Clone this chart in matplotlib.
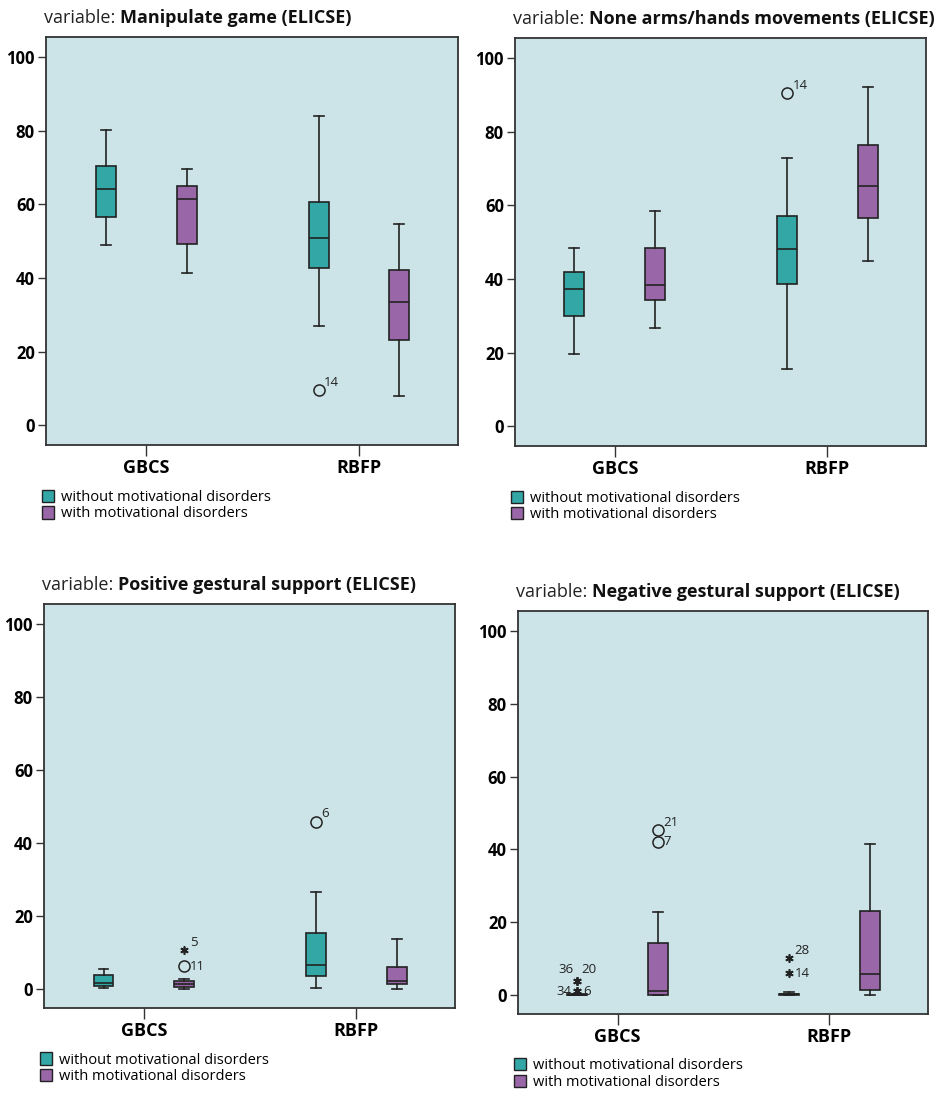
import matplotlib
matplotlib.use("Agg")
import matplotlib.pyplot as plt
from matplotlib.patches import Patch

plt.rcParams['font.family'] = ['Open Sans', 'DejaVu Sans']

groups = ["GBCS", "RBFP"]
series_names = ["without motivational disorders", "with motivational disorders"]
titles = ["Manipulate game (ELICSE)", "None arms/hands movements (ELICSE)",
          "Positive gestural support (ELICSE)", "Negative gestural support (ELICSE)"]

# box stats: [whislo, q1, med, q3, whishi] for GBCS, RBFP
manip_without = [[48.9, 56.5, 64.1, 70.5, 80.1], [27.0, 42.8, 51.0, 60.8, 84.1]]
manip_with = [[41.3, 49.2, 61.6, 65.1, 69.7], [7.9, 23.1, 33.5, 42.1, 54.7]]
none_without = [[19.7, 29.9, 37.3, 42.0, 48.4], [15.6, 38.8, 48.1, 57.2, 72.8]]
none_with = [[26.6, 34.4, 38.4, 48.4, 58.6], [44.8, 56.5, 65.2, 76.3, 92.2]]
pos_without = [[0.3, 0.8, 1.6, 3.8, 5.4], [0.3, 3.4, 6.4, 15.4, 26.5]]
pos_with = [[0.0, 0.5, 1.3, 2.2, 2.7], [0.0, 1.3, 2.0, 5.9, 13.5]]
neg_without = [[0.0, 0.0, 0.0, 0.2, 0.3], [0.0, 0.0, 0.1, 0.3, 0.8]]
neg_with = [[0.0, 0.0, 0.9, 14.1, 22.7], [0.0, 1.2, 5.7, 23.1, 41.5]]

# outliers: (group, series, value, case label, kind)
manip_out = [(1, 0, 9.5, "14", "o")]
none_out = [(1, 0, 90.5, "14", "o")]
pos_out = [(0, 1, 6.1, "11", "o"), (0, 1, 10.5, "5", "*"), (1, 0, 45.8, "6", "o")]
neg_out = [(0, 0, 3.9, "36", "*"), (0, 0, 3.9, "20", "*"), (0, 0, 0.9, "34", "*"),
           (0, 0, 0.9, "6", "*"), (0, 1, 45.3, "21", "o"), (0, 1, 42.1, "7", "o"),
           (1, 0, 10.1, "28", "*"), (1, 0, 5.9, "14", "*")]

panels = [(manip_without, manip_with, manip_out),
          (none_without, none_with, none_out),
          (pos_without, pos_with, pos_out),
          (neg_without, neg_with, neg_out)]

# where the case label sits relative to its marker
label_place = {(2, "11"): "r", (3, "36"): "ul", (3, "20"): "up", (3, "34"): "l",
               (3, "6"): "r", (3, "7"): "r", (3, "14"): "r"}
place_offset = {"ur": ((4, 1), "left", "bottom"), "up": ((3, 3), "left", "bottom"),
                "r": ((4, 0), "left", "center"),
                "ul": ((-3, 3), "right", "bottom"), "l": ((-4, 0), "right", "center")}

colors = ["#33a6a6", "#9966a8"]
bg = "#cce4e8"
edge = "#222222"
axes_pos = [[0.0483, 0.594, 0.4323, 0.3723],
            [0.5404, 0.5931, 0.4313, 0.3723],
            [0.0462, 0.0803, 0.4313, 0.3686],
            [0.5435, 0.0748, 0.4302, 0.3677]]
offset = 0.19
bw = 0.094

fig = plt.figure(figsize=(9.53, 10.96), dpi=100)

for i, (s_without, s_with, outs) in enumerate(panels):
    ax = fig.add_axes(axes_pos[i])
    ax.set_facecolor(bg)
    for k, stats_list in enumerate([s_without, s_with]):
        stats = []
        for s in stats_list:
            stats.append(dict(whislo=s[0], q1=s[1], med=s[2], q3=s[3], whishi=s[4], fliers=[]))
        pos = [g + (2 * k - 1) * offset for g in range(len(groups))]
        ax.bxp(stats, positions=pos, widths=bw, capwidths=bw / 2, patch_artist=True,
               showfliers=False, manage_ticks=False,
               boxprops=dict(facecolor=colors[k], edgecolor=edge, linewidth=1.2),
               medianprops=dict(color=edge, linewidth=1.2),
               whiskerprops=dict(color=edge, linewidth=1.2),
               capprops=dict(color=edge, linewidth=1.2))
    for g, k, v, lab, kind in outs:
        x = g + (2 * k - 1) * offset
        if kind == "o":
            ax.plot(x, v, "o", mfc="none", mec=edge, ms=8, mew=1.1)
        else:
            ax.plot(x, v, marker=(6, 2, 0), color=edge, ms=6, mew=1.2)
        place = label_place.get((i, lab), "ur")
        (dx, dy), ha, va = place_offset[place]
        ax.annotate(lab, (x, v), xytext=(dx, dy), textcoords="offset points",
                    ha=ha, va=va, fontsize=9.5, color="#222222")

    ax.set_xlim(-0.47, 1.465)
    ax.set_ylim(-5.3, 105.5)
    ax.set_yticks([0, 20, 40, 60, 80, 100])
    ax.set_xticks([0, 1])
    ax.set_xticklabels(groups, fontsize=13, fontweight="bold")
    ax.tick_params(axis="y", labelsize=12, length=6, width=1, color="#333333", pad=2)
    ax.tick_params(axis="x", length=8, width=1, color="#333333", pad=2)
    for t in ax.get_yticklabels():
        t.set_fontweight("bold")
    for sp in ax.spines.values():
        sp.set_color("#333333")
        sp.set_linewidth(1.3)

    handles = [Patch(facecolor=colors[0], edgecolor=edge, label=series_names[0]),
               Patch(facecolor=colors[1], edgecolor=edge, label=series_names[1])]
    ax.legend(handles=handles, loc="upper left", bbox_to_anchor=(-0.01, -0.11),
              frameon=False, fontsize=10.5, handlelength=0.8, handleheight=0.9,
              handletextpad=0.5, labelspacing=0.1, borderpad=0, borderaxespad=0)

    t1 = ax.annotate("variable: ", xy=(-0.005, 1.035), xycoords="axes fraction",
                     ha="left", va="baseline", fontsize=13, color="#222222")
    ax.annotate(titles[i], xy=(1, 0), xycoords=t1, ha="left", va="bottom",
                fontsize=13, fontweight="bold", color="#111111")

fig.savefig("out.png", dpi=100, facecolor="white")
